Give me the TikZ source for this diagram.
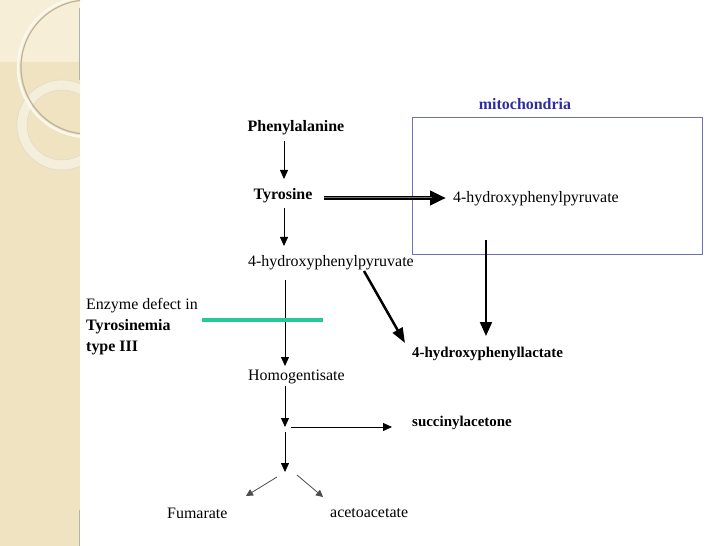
\documentclass[tikz,border=0pt]{standalone}
\usepackage{fontspec}
\setmainfont{Liberation Serif}
\usetikzlibrary{arrows.meta}
\definecolor{strip}{RGB}{240,227,194}
\definecolor{striplight}{RGB}{246,238,214}
\definecolor{ringc}{RGB}{245,238,218}
\definecolor{ringdark}{RGB}{190,178,150}
\definecolor{boxc}{RGB}{110,110,185}
\definecolor{mitoc}{RGB}{45,45,160}
\definecolor{tealc}{RGB}{35,200,155}
\tikzset{
  lbl/.style={inner sep=0pt, font=\fontsize{16}{18}\selectfont},
  blbl/.style={lbl, font=\fontsize{16}{18}\selectfont\bfseries},
  thin arrow/.style={line width=0.8bp, -{Triangle[width=8bp,length=9bp]}},
  small arrow/.style={line width=0.8bp, draw=black!70, -{Triangle[width=7bp,length=7bp]}},
}
\begin{document}
\begin{tikzpicture}[x=1bp,y=-1bp]
\useasboundingbox (0,0) rectangle (728,546);
\fill[white] (0,0) rectangle (728,546);
% left decorative strip
\fill[strip] (0,0) rectangle (80,546);
\fill[striplight] (0,0) rectangle (80,62);
\begin{scope}
  \clip (0,0) rectangle (80,546);
  \draw[ringc, line width=10bp] (62,125) circle (40);
  \draw[ringdark!50, line width=0.5bp] (62,125) circle (45);
  \draw[ringdark!50, line width=0.5bp] (62,125) circle (35);
  \draw[white!70!strip, line width=2.5bp] (88,67) circle (70);
  \draw[ringdark, line width=1.2bp] (88,67) circle (67);
\end{scope}
\draw[black!30, line width=1bp] (79.5,8) -- (79.5,80);
\draw[black!30, line width=1bp] (79.5,510) -- (79.5,546);

% mitochondria box
\node[font=\fontsize{16}{18}\selectfont\bfseries, text=mitoc, inner sep=0pt] (mito) at (525,104) {mitochondria};
\draw[boxc, line width=0.9bp] (412,117) rectangle (702,254);
\node[lbl, anchor=west] (hppm) at (453,199) {4-hydroxyphenylpyruvate};

% main pathway
\node[blbl] (phe) at (296,128) {Phenylalanine};
\node[blbl] (tyr) at (283,196) {Tyrosine};
\node[lbl, anchor=west] (hpp) at (248,263) {4-hydroxyphenylpyruvate};
\node[lbl, anchor=west] (hom) at (248,377) {Homogentisate};
\node[blbl, anchor=west, font=\fontsize{15}{17}\selectfont\bfseries] (hpl) at (412,354) {4-hydroxyphenyllactate};
\node[blbl, anchor=west, font=\fontsize{15}{17}\selectfont\bfseries] (suc) at (412,423) {succinylacetone};
\node[lbl, anchor=west] (fum) at (167,513) {Fumarate};
\node[lbl, anchor=west] (ace) at (330,513) {acetoacetate};

\coordinate (j1) at (285,427);
\coordinate (j2) at (285,472);

\draw[thin arrow] (phe.south -| 284,0) ++(0,6) -- (284,179);
\draw[thin arrow] (284,208) -- (284,246);
\draw[thin arrow] (285,280) -- (285,366);
\draw[thin arrow] (285,386) -- (j1);
\draw[line width=0.8bp, -{Triangle[width=8bp,length=9bp]}] (291,427) -- (392,427);
\draw[thin arrow] (285,432) -- (j2);
\draw[small arrow] (277,477) -- (246,496);
\draw[small arrow] (297,475) -- (323,497);

% thick arrows
\draw[line width=4bp, -{Triangle[width=14bp,length=16bp]}] (324,198) -- (446,198);
\draw[black!55, line width=1bp, shorten >=14bp] (324,198) -- (446,198);
\draw[line width=2.5bp, -{Triangle[width=11bp,length=15bp]}] (364,271) -- (405,343);
\draw[line width=2bp, -{Triangle[width=12bp,length=14bp]}] (486,240) -- (486,336);

% enzyme defect
\draw[tealc, line width=3.5bp] (202,320) -- (323,320);
\node[lbl, anchor=west] (enz) at (86,306) {Enzyme defect in};
\node[blbl, anchor=west] (tyrsn) at (86,327) {Tyrosinemia};
\node[blbl, anchor=west] (typ) at (86,348) {type III};
\end{tikzpicture}
\end{document}
